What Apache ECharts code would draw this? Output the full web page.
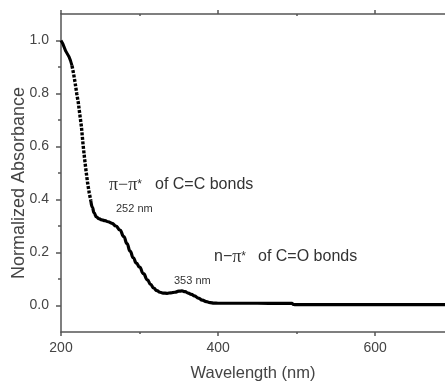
<!DOCTYPE html>
<html>
<head>
<meta charset="utf-8">
<script src="https://cdn.jsdelivr.net/npm/echarts@6/dist/echarts.min.js"></script>
<style>html,body{margin:0;padding:0;background:#fff}#c{width:445px;height:381px}</style>
</head>
<body>
<div id="c"></div>
<script>
// Wavelength (nm) and normalized absorbance
const wlTop = [200, 202, 204, 206, 208, 210, 212, 214];
const absTop = [1.0, 0.99, 0.975, 0.96, 0.95, 0.94, 0.925, 0.905];
const wlSteep = [214, 216, 218, 220, 222, 224, 226, 228, 230, 232, 234, 236, 238];
const absSteep = [0.905, 0.875, 0.84, 0.80, 0.766, 0.72, 0.675, 0.61, 0.555, 0.505, 0.46, 0.424, 0.395];
const wlTail = [238, 240, 242, 245, 248, 252, 256, 260, 265, 270, 275, 280, 284, 288, 292, 296, 300, 305, 310, 314, 318, 322, 326, 330, 335, 340, 345, 350, 354, 358, 362, 366, 370, 375, 380, 385, 390, 395, 400, 420, 450, 480, 494, 496, 500, 550, 600, 650, 689];
const absTail = [0.395, 0.37, 0.35, 0.335, 0.328, 0.323, 0.32, 0.316, 0.31, 0.30, 0.285, 0.26, 0.234, 0.205, 0.18, 0.16, 0.145, 0.12, 0.097, 0.08, 0.066, 0.056, 0.05, 0.047, 0.046, 0.048, 0.05, 0.054, 0.055, 0.052, 0.047, 0.042, 0.036, 0.028, 0.02, 0.015, 0.011, 0.009, 0.0085, 0.0085, 0.0085, 0.008, 0.008, 0.004, 0.003, 0.003, 0.003, 0.003, 0.003];
const xMajor = [200, 400, 600];
const xMinor = [300, 500];
const yMajor = [0.0, 0.2, 0.4, 0.6, 0.8, 1.0];
const yMinor = [0.1, 0.3, 0.5, 0.7, 0.9];

const zip = (a, b) => a.map((v, i) => [v, b[i]]);
const axisCol = '#555';
const labCol = '#444';
const txtCol = '#333';
const sans = 'Liberation Sans, Arial';
const serif = 'Liberation Serif, serif';
const xBase = { type: 'value', min: 200, max: 689, gridIndex: 0, splitLine: { show: false } };
const yBase = { type: 'value', min: -0.1, max: 1.1, gridIndex: 0, splitLine: { show: false } };

const chart = echarts.init(document.getElementById('c'), null, { renderer: 'canvas' });
chart.setOption({
  animation: false,
  backgroundColor: '#fff',
  grid: { left: 61, right: 0, top: 14, bottom: 49, containLabel: false, outerBoundsMode: 'none' },
  xAxis: [
    Object.assign({}, xBase, {
      position: 'bottom',
      name: 'Wavelength (nm)', nameLocation: 'middle', nameGap: 33, nameMoveOverlap: false,
      nameTextStyle: { fontFamily: sans, fontSize: 16.5, color: labCol },
      axisLine: { show: true, onZero: false, lineStyle: { color: axisCol, width: 1.5 } },
      axisTick: { show: true, inside: false, length: 4, customValues: xMajor, lineStyle: { color: axisCol, width: 1.5 } },
      axisLabel: { show: true, margin: 9, customValues: xMajor, fontFamily: sans, fontSize: 14, color: labCol }
    }),
    Object.assign({}, xBase, {
      position: 'top',
      axisLine: { show: true, onZero: false, lineStyle: { color: axisCol, width: 1.5 } },
      axisTick: { show: true, inside: false, length: 4, customValues: xMajor, lineStyle: { color: axisCol, width: 1.5 } },
      axisLabel: { show: false }
    }),
    Object.assign({}, xBase, {
      position: 'bottom',
      axisLine: { show: false, onZero: false },
      axisTick: { show: true, inside: false, length: 2, customValues: xMinor, lineStyle: { color: axisCol, width: 1.5 } },
      axisLabel: { show: false }
    }),
    Object.assign({}, xBase, {
      position: 'top',
      axisLine: { show: false, onZero: false },
      axisTick: { show: true, inside: true, length: 2, customValues: xMinor, lineStyle: { color: axisCol, width: 1.5 } },
      axisLabel: { show: false }
    })
  ],
  yAxis: [
    Object.assign({}, yBase, {
      position: 'left',
      name: 'Normalized Absorbance', nameLocation: 'middle', nameGap: 33, nameMoveOverlap: false,
      nameTextStyle: { fontFamily: sans, fontSize: 18, color: labCol, padding: [0, 20, 0, 0] },
      axisLine: { show: true, onZero: false, lineStyle: { color: axisCol, width: 1.5 } },
      axisTick: { show: true, inside: false, length: 5, customValues: yMajor, lineStyle: { color: axisCol, width: 1.5 } },
      axisLabel: { show: true, margin: 12, customValues: yMajor, formatter: v => v.toFixed(1), fontFamily: sans, fontSize: 14, color: labCol }
    }),
    Object.assign({}, yBase, {
      position: 'left',
      axisLine: { show: false, onZero: false },
      axisTick: { show: true, inside: false, length: 3, customValues: yMinor, lineStyle: { color: axisCol, width: 1.5 } },
      axisLabel: { show: false }
    })
  ],
  series: [
    { type: 'line', xAxisIndex: 0, yAxisIndex: 0, data: zip(wlTop, absTop), symbol: 'none', smooth: false,
      lineStyle: { color: '#000', width: 3 } },
    { type: 'line', xAxisIndex: 0, yAxisIndex: 0, data: zip(wlSteep, absSteep), symbol: 'none', smooth: false,
      lineStyle: { color: '#000', width: 3.4, type: [3, 1.5], cap: 'butt' } },
    { type: 'line', xAxisIndex: 0, yAxisIndex: 0, data: zip(wlTail, absTail), symbol: 'none', smooth: true, smoothMonotone: 'x',
      lineStyle: { color: '#000', width: 3.2 } }
  ],
  graphic: [
    { type: 'text', left: 109, top: 176, style: {
      text: '{p|π−π}{s|*}',
      rich: { p: { fontFamily: serif, fontSize: 18, fill: txtCol }, s: { fontFamily: sans, fontSize: 12, fill: txtCol } } } },
    { type: 'text', left: 155, top: 177, style: { text: 'of C=C bonds', fontFamily: sans, fontSize: 16, fill: txtCol } },
    { type: 'text', left: 116, top: 203, style: { text: '252 nm', fontFamily: sans, fontSize: 11, fill: txtCol } },
    { type: 'text', left: 214, top: 248, style: {
      text: '{t|n−}{p|π}{s|*}',
      rich: { t: { fontFamily: sans, fontSize: 16, fill: txtCol }, p: { fontFamily: serif, fontSize: 18, fill: txtCol }, s: { fontFamily: sans, fontSize: 12, fill: txtCol } } } },
    { type: 'text', left: 258, top: 249, style: { text: 'of C=O bonds', fontFamily: sans, fontSize: 16, fill: txtCol } },
    { type: 'text', left: 174, top: 275, style: { text: '353 nm', fontFamily: sans, fontSize: 11, fill: txtCol } }
  ]
});
</script>
</body>
</html>
